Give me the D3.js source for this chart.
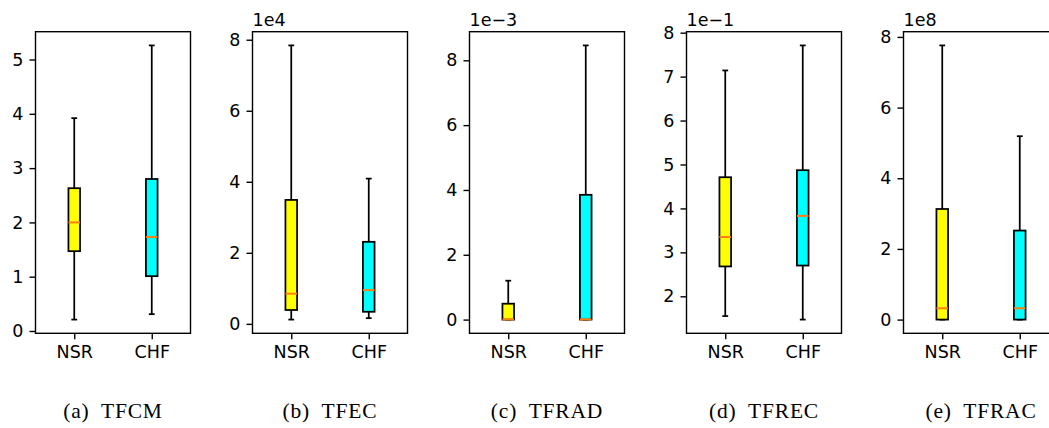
<!DOCTYPE html>
<html><head><meta charset="utf-8">
<script src="https://cdn.jsdelivr.net/npm/d3@7"></script>
<style>html,body{margin:0;padding:0;background:#fff;}svg{display:block;}</style>
</head><body>
<svg id="chart" width="1049" height="428"></svg>
<script>
// ---- Data (five-number summaries: whisker low, Q1, median, Q3, whisker high) ----
const categories = ["NSR", "CHF"];
const panelNames = ["TFCM", "TFEC", "TFRAD", "TFREC", "TFRAC"];
const captionLetters = ["(a)", "(b)", "(c)", "(d)", "(e)"];
const exponents = [0, 4, -3, -1, 8];
const offsetLabels = ["", "1e4", "1e\u22123", "1e\u22121", "1e8"];

const tfcmNSR  = [0.21, 1.47, 2.00, 2.63, 3.92];
const tfcmCHF  = [0.31, 1.01, 1.73, 2.80, 5.26];
const tfecNSR  = [1200, 3900, 8500, 34900, 78400];
const tfecCHF  = [1600, 3400, 9500, 23100, 40900];
const tfradNSR = [0, 0, 0.000005, 0.00049, 0.00120];
const tfradCHF = [0, 0, 0.000005, 0.00385, 0.00846];
const tfrecNSR = [0.155, 0.268, 0.335, 0.471, 0.714];
const tfrecCHF = [0.147, 0.270, 0.383, 0.487, 0.771];
const tfracNSR = [0, 0, 3.2e7, 3.13e8, 7.76e8];
const tfracCHF = [0, 0, 3.2e7, 2.52e8, 5.19e8];

const tfcmTicks  = [0, 1, 2, 3, 4, 5];
const tfecTicks  = [0, 2, 4, 6, 8];
const tfradTicks = [0, 2, 4, 6, 8];
const tfrecTicks = [2, 3, 4, 5, 6, 7, 8];
const tfracTicks = [0, 2, 4, 6, 8];

const seriesByPanel = [
  [tfcmNSR, tfcmCHF], [tfecNSR, tfecCHF], [tfradNSR, tfradCHF],
  [tfrecNSR, tfrecCHF], [tfracNSR, tfracCHF]
];
const ticksByPanel = [tfcmTicks, tfecTicks, tfradTicks, tfrecTicks, tfracTicks];
const boxColors = ["#ffff00", "#00ffff"];

// ---- Layout ----
const svg = d3.select("#chart");
const frameW = 155, plotTop = 31.7, plotBottom = 333.3, step = 217, left0 = 35.5;
const tickFont = "'DejaVu Sans', sans-serif";
const lw = 1.75;

panelNames.forEach((name, i) => {
  const left = left0 + step * i;
  const data = seriesByPanel[i];
  const scaleF = Math.pow(10, exponents[i]);
  const all = data.flat();
  const mn = d3.min(all), mx = d3.max(all), pad = (mx - mn) * 0.05;
  const y = d3.scaleLinear().domain([mn - pad, mx + pad]).range([plotBottom, plotTop]);
  const x = d3.scaleLinear().domain([0.5, 2.5]).range([left, left + frameW]);
  const g = svg.append("g");

  const bw = 0.15, cw = 0.075;
  data.forEach((s, j) => {
    const pos = j + 1;
    const [lo, q1, med, q3, hi] = s;
    g.append("line").attr("x1", x(pos)).attr("x2", x(pos)).attr("y1", y(q1)).attr("y2", y(lo))
      .attr("stroke", "#000").attr("stroke-width", lw);
    g.append("line").attr("x1", x(pos)).attr("x2", x(pos)).attr("y1", y(q3)).attr("y2", y(hi))
      .attr("stroke", "#000").attr("stroke-width", lw);
    [lo, hi].forEach(v => {
      g.append("line").attr("x1", x(pos - cw / 2)).attr("x2", x(pos + cw / 2))
        .attr("y1", y(v)).attr("y2", y(v)).attr("stroke", "#000").attr("stroke-width", lw);
    });
    g.append("rect").attr("x", x(pos - bw / 2)).attr("width", x(pos + bw / 2) - x(pos - bw / 2))
      .attr("y", y(q3)).attr("height", Math.max(0, y(q1) - y(q3)))
      .attr("fill", boxColors[j]).attr("stroke", "#000").attr("stroke-width", lw);
    g.append("line").attr("x1", x(pos - bw / 2)).attr("x2", x(pos + bw / 2))
      .attr("y1", y(med)).attr("y2", y(med)).attr("stroke", "#ff7f0e").attr("stroke-width", 2);
  });

  g.append("rect").attr("x", left).attr("y", plotTop).attr("width", frameW).attr("height", plotBottom - plotTop)
    .attr("fill", "none").attr("stroke", "#000").attr("stroke-width", 1.4);

  const yAxis = d3.axisLeft(y).tickValues(ticksByPanel[i].map(t => t * scaleF))
    .tickFormat(v => String(Math.round(v / scaleF))).tickSize(6).tickPadding(6);
  const ya = g.append("g").attr("transform", `translate(${left},0)`).call(yAxis);
  ya.select(".domain").remove();
  ya.selectAll(".tick line").attr("stroke", "#000").attr("stroke-width", 1.4);
  ya.selectAll(".tick text").attr("font-family", tickFont).attr("font-size", "17.5px").attr("fill", "#000");

  const xAxis = d3.axisBottom(x).tickValues([1, 2]).tickFormat((d, k) => categories[k]).tickSize(6).tickPadding(6);
  const xa = g.append("g").attr("transform", `translate(0,${plotBottom})`).call(xAxis);
  xa.select(".domain").remove();
  xa.selectAll(".tick line").attr("stroke", "#000").attr("stroke-width", 1.4);
  xa.selectAll(".tick text").attr("font-family", tickFont).attr("font-size", "17.5px").attr("fill", "#000");

  if (offsetLabels[i]) {
    g.append("text").attr("x", left).attr("y", 26).attr("font-family", tickFont)
      .attr("font-size", "17.5px").attr("fill", "#000").text(offsetLabels[i]);
  }

  g.append("text").attr("x", left + frameW / 2).attr("y", 418).attr("text-anchor", "middle")
    .attr("font-family", "'Liberation Serif', serif").attr("font-size", "21.5px").attr("fill", "#000")
    .attr("letter-spacing", "0.8px")
    .text(captionLetters[i] + "\u2002" + name);
});
</script>
</body></html>
